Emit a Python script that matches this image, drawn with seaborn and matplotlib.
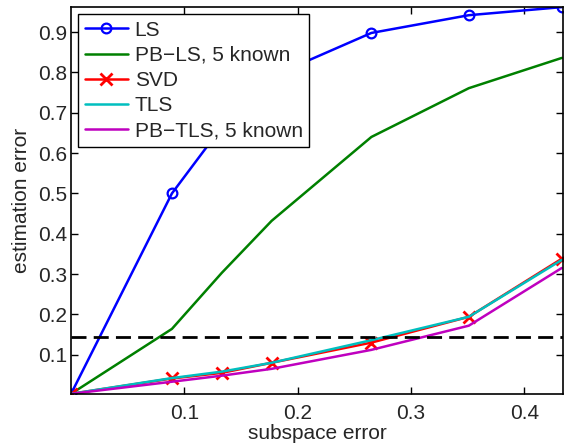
import matplotlib
matplotlib.use("Agg")
import matplotlib.pyplot as plt
import seaborn as sns
import pandas as pd

# subspace error (x) shared by all curves
subspace_err = [0.0, 0.089, 0.133, 0.177, 0.265, 0.351, 0.433]

ls_err = [0.003, 0.500, 0.665, 0.790, 0.898, 0.942, 0.962]
pb_ls_err = [0.003, 0.164, 0.303, 0.432, 0.640, 0.761, 0.836]
svd_err = [0.003, 0.041, 0.055, 0.080, 0.130, 0.194, 0.338]
tls_err = [0.003, 0.042, 0.058, 0.080, 0.136, 0.194, 0.335]
pb_tls_err = [0.003, 0.033, 0.048, 0.065, 0.112, 0.172, 0.315]

threshold = 0.143

series_names = ["LS", "PB\u2212LS, 5 known", "SVD", "TLS", "PB\u2212TLS, 5 known"]
series_vals = [ls_err, pb_ls_err, svd_err, tls_err, pb_tls_err]
colors = ["#0000ff", "#008000", "#ff0000", "#00bfbf", "#bf00bf"]
markers = ["o", None, "x", None, None]

sns.set_style("ticks")
plt.rcParams["font.family"] = ["Liberation Sans", "DejaVu Sans"]
plt.rcParams["xtick.direction"] = "in"
plt.rcParams["ytick.direction"] = "in"

fig = plt.figure(figsize=(5.64, 4.46), dpi=100)
ax = fig.add_axes([0.126, 0.117, 0.872, 0.867])

for name, vals, c, m in zip(series_names, series_vals, colors, markers):
    df = pd.DataFrame({"x": subspace_err, "y": vals})
    kw = {}
    if m == "o":
        kw = dict(marker="o", markersize=7, markerfacecolor="none",
                  markeredgecolor=c, markeredgewidth=1.6)
    elif m == "x":
        kw = dict(marker="x", markersize=9, markeredgecolor=c, markeredgewidth=2)
    sns.lineplot(data=df, x="x", y="y", ax=ax, color=c, linewidth=1.8,
                 label=name, **kw)

ax.axhline(threshold, color="black", linestyle=(0, (5.4, 2.6)), linewidth=2, zorder=5)

ax.set_xlim(0, 0.434)
ax.set_ylim(0.003, 0.962)
ax.set_xticks([0.1, 0.2, 0.3, 0.4])
ax.set_yticks([0.1, 0.2, 0.3, 0.4, 0.5, 0.6, 0.7, 0.8, 0.9])
ax.tick_params(axis="both", which="both", top=True, right=True, labelsize=15,
               length=5, width=1, color="black")
ax.tick_params(axis="x", pad=7)
ax.tick_params(axis="y", pad=3)
for sp in ax.spines.values():
    sp.set_visible(True)
    sp.set_linewidth(1.2)
    sp.set_color("black")

ax.set_xlabel("subspace error", fontsize=15, labelpad=1)
ax.set_ylabel("estimation error", fontsize=15, labelpad=5)

leg = ax.legend(loc="upper left", fontsize=15, frameon=True, fancybox=False,
                edgecolor="black", framealpha=1, borderpad=0.3, labelspacing=0.3,
                handlelength=2.1, handletextpad=0.3, borderaxespad=0.35)
leg.get_frame().set_linewidth(1)
leg.set_zorder(10)

fig.savefig("out.png", dpi=100)
